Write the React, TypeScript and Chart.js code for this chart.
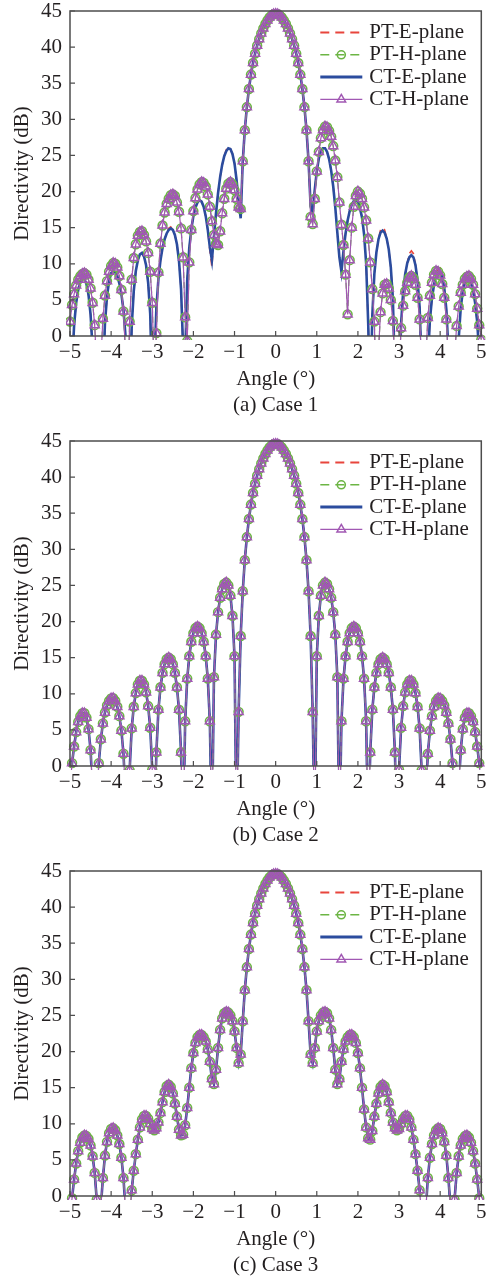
import { useEffect, useRef } from 'react';
import { Chart, registerables } from 'chart.js';

Chart.register(...registerables);

// ---------- data ----------
const angles = [
  -5, -4.95, -4.9, -4.85, -4.8, -4.75, -4.7, -4.65, -4.6, -4.55,
  -4.5, -4.45, -4.4, -4.35, -4.3, -4.25, -4.2, -4.15, -4.1, -4.05,
  -4, -3.95, -3.9, -3.85, -3.8, -3.75, -3.7, -3.65, -3.6, -3.55,
  -3.5, -3.45, -3.4, -3.35, -3.3, -3.25, -3.2, -3.15, -3.1, -3.05,
  -3, -2.95, -2.9, -2.85, -2.8, -2.75, -2.7, -2.65, -2.6, -2.55,
  -2.5, -2.45, -2.4, -2.35, -2.3, -2.25, -2.2, -2.15, -2.1, -2.05,
  -2, -1.95, -1.9, -1.85, -1.8, -1.75, -1.7, -1.65, -1.6, -1.55,
  -1.5, -1.45, -1.4, -1.35, -1.3, -1.25, -1.2, -1.15, -1.1, -1.05,
  -1, -0.95, -0.9, -0.85, -0.8, -0.75, -0.7, -0.65, -0.6, -0.55,
  -0.5, -0.45, -0.4, -0.35, -0.3, -0.25, -0.2, -0.15, -0.1, -0.05,
  0, 0.05, 0.1, 0.15, 0.2, 0.25, 0.3, 0.35, 0.4, 0.45,
  0.5, 0.55, 0.6, 0.65, 0.7, 0.75, 0.8, 0.85, 0.9, 0.95,
  1, 1.05, 1.1, 1.15, 1.2, 1.25, 1.3, 1.35, 1.4, 1.45,
  1.5, 1.55, 1.6, 1.65, 1.7, 1.75, 1.8, 1.85, 1.9, 1.95,
  2, 2.05, 2.1, 2.15, 2.2, 2.25, 2.3, 2.35, 2.4, 2.45,
  2.5, 2.55, 2.6, 2.65, 2.7, 2.75, 2.8, 2.85, 2.9, 2.95,
  3, 3.05, 3.1, 3.15, 3.2, 3.25, 3.3, 3.35, 3.4, 3.45,
  3.5, 3.55, 3.6, 3.65, 3.7, 3.75, 3.8, 3.85, 3.9, 3.95,
  4, 4.05, 4.1, 4.15, 4.2, 4.25, 4.3, 4.35, 4.4, 4.45,
  4.5, 4.55, 4.6, 4.65, 4.7, 4.75, 4.8, 4.85, 4.9, 4.95,
  5,
];

const seriesNames = ['PT-E-plane', 'PT-H-plane', 'CT-E-plane', 'CT-H-plane'];
const captions = ['(a) Case 1', '(b) Case 2', '(c) Case 3'];
const xTickValues = [-5, -4, -3, -2, -1, 0, 1, 2, 3, 4, 5];
const yTickValues = [0, 5, 10, 15, 20, 25, 30, 35, 40, 45];

// Case 1 (directivity, dB)
const case1PTE = [
  -10, -4.3, 1.5, 4.6, 6.4, 7.5, 8.0, 7.9, 7.2, 5.7,
  3.0, -1.9, -10, -6, -8, -10, -6.5, 1.8, 5.5, 7.6,
  8.7, 9.0, 8.8, 8.3, 7.3, 5.8, 3.6, 0.0, -6.9, -10,
  1.3, 6.2, 9.0, 10.5, 11.3, 11.5, 11.0, 9.8, 7.4, 3.1,
  -7.5, -4.5, 3.9, 7.9, 10.5, 12.2, 13.4, 14.2, 14.9, 15.1,
  14.7, 14.0, 12.7, 10.4, 6.5, -1.7, -3.2, 7.7, 12.2, 14.8,
  16.6, 17.8, 18.5, 18.8, 18.6, 17.9, 16.6, 14.7, 11.8, 9.6,
  13.8, 17.0, 19.8, 22.0, 23.7, 24.9, 25.8, 26.2, 25.9, 25.2,
  23.9, 21.6, 18.6, 16.3, 24.2, 28.5, 31.7, 34.2, 36.2, 37.8,
  39.1, 40.2, 41.1, 41.9, 42.6, 43.2, 43.7, 44.1, 44.4, 44.55,
  44.6, 44.55, 44.4, 44.1, 43.7, 43.2, 42.6, 41.9, 41.1, 40.2,
  39.1, 37.8, 36.2, 34.2, 31.7, 28.5, 24.2, 18.0, 17.0, 20.2,
  22.8, 24.6, 25.6, 26.0, 26.0, 25.5, 24.5, 22.9, 20.7, 17.8,
  14.3, 10.9, 8.9, 11.8, 14.2, 16.0, 17.3, 18.2, 18.7, 18.8,
  18.6, 17.7, 16.4, 14.1, 10.1, 1.8, -10, 2.8, 8.6, 11.6,
  13.4, 14.7, 15.0, 14.7, 13.5, 12.0, 9.5, 5.1, -5.4, -10,
  -8.8, 1.7, 6.1, 8.6, 10.1, 11.4, 11.8, 11.4, 9.8, 7.7,
  4.0, -4.3, -10, -10, -3.6, 2.2, 5.2, 7.1, 8.3, 9.2,
  9.4, 8.6, 6.6, 3.7, -1.9, -10, -8, -10, -10, -0.4,
  3.9, 6.2, 7.5, 8.0, 7.9, 7.3, 6.3, 4.6, 2.0, -2.5,
  -10,
];

const case1CTE = [
  -10, -4.3, 1.5, 4.6, 6.4, 7.5, 8.0, 7.9, 7.2, 5.7,
  3.0, -1.9, -10, -6, -8, -10, -6.5, 1.8, 5.5, 7.6,
  8.7, 9.0, 8.8, 8.3, 7.3, 5.8, 3.6, 0.0, -6.9, -10,
  1.3, 6.2, 9.0, 10.5, 11.3, 11.5, 11.0, 9.8, 7.4, 3.1,
  -7.5, -4.5, 3.9, 7.9, 10.5, 12.2, 13.4, 14.2, 14.7, 14.9,
  14.7, 14.0, 12.7, 10.4, 6.5, -1.7, -3.2, 7.7, 12.2, 14.8,
  16.6, 17.8, 18.5, 18.8, 18.6, 17.9, 16.6, 14.7, 12.3, 10.5,
  13.8, 17.0, 19.8, 22.0, 23.7, 24.9, 25.6, 26.0, 25.9, 25.2,
  23.9, 21.6, 18.6, 16.3, 24.2, 28.5, 31.7, 34.2, 36.2, 37.8,
  39.1, 40.2, 41.1, 41.9, 42.6, 43.2, 43.7, 44.1, 44.4, 44.55,
  44.6, 44.55, 44.4, 44.1, 43.7, 43.2, 42.6, 41.9, 41.1, 40.2,
  39.1, 37.8, 36.2, 34.2, 31.7, 28.5, 24.2, 18.0, 17.0, 20.2,
  22.8, 24.6, 25.6, 26.0, 26.0, 25.5, 24.5, 22.9, 20.7, 17.8,
  14.3, 10.9, 8.9, 11.8, 14.2, 16.0, 17.3, 18.2, 18.7, 18.8,
  18.6, 17.7, 16.4, 14.1, 10.1, 1.8, -10, 2.8, 8.6, 11.6,
  13.4, 14.3, 14.6, 14.3, 13.5, 12.0, 9.5, 5.1, -5.4, -10,
  -8.8, 1.7, 6.1, 8.6, 10.1, 10.9, 11.2, 10.9, 9.8, 7.7,
  4.0, -4.3, -10, -10, -3.6, 2.2, 5.2, 7.1, 8.3, 8.8,
  8.9, 8.2, 6.6, 3.7, -1.9, -10, -8, -10, -10, -0.4,
  3.9, 6.2, 7.5, 8.0, 7.9, 7.3, 6.3, 4.6, 2.0, -2.5,
  -10,
];

const case1H = [
  2.0, 4.3, 5.8, 7.0, 7.8, 8.3, 8.6, 8.7, 8.5, 7.8,
  6.6, 4.6, 1.5, -4.3, -10, -3.4, 2.4, 5.6, 7.6, 8.9,
  9.7, 10.1, 10.0, 9.5, 8.3, 6.4, 3.4, -2.4, -10, 2.0,
  7.8, 10.8, 12.7, 13.9, 14.4, 14.5, 14.0, 13.1, 11.5, 8.9,
  4.6, -6, 0.4, 8.8, 12.8, 15.3, 17.1, 18.3, 19.0, 19.5,
  19.6, 19.4, 18.5, 17.2, 14.9, 10.9, 2.6, -0.7, 10.2, 14.7,
  17.3, 19.1, 20.3, 21.0, 21.3, 21.2, 20.7, 19.6, 17.9, 15.9,
  14.0, 12.8, 12.6, 14.5, 17.0, 19.0, 20.4, 21.1, 21.3, 21.0,
  20.2, 19.0, 17.8, 17.6, 24.2, 28.5, 31.7, 34.2, 36.2, 37.8,
  39.1, 40.2, 41.1, 41.9, 42.6, 43.2, 43.7, 44.1, 44.4, 44.55,
  44.6, 44.55, 44.4, 44.1, 43.7, 43.2, 42.6, 41.9, 41.1, 40.2,
  39.1, 37.8, 36.2, 34.2, 31.7, 28.5, 24.2, 16.5, 15.5, 19.0,
  22.8, 25.5, 27.4, 28.5, 29.0, 28.9, 28.4, 27.6, 26.3, 24.3,
  22.0, 18.5, 15.4, 12.6, 8.5, 3.0, 10.5, 15.0, 17.9, 19.4,
  20.0, 19.7, 19.0, 17.8, 16.0, 13.5, 10.2, 6.5, 2.0, -10,
  -2.2, 3.3, 5.9, 7.1, 7.2, 6.6, 5.0, 2.1, -3.5, -10,
  -4.8, 1.1, 4.2, 6.2, 7.4, 8.1, 8.3, 8.0, 7.1, 5.3,
  2.3, -3.5, -10, -3.3, 2.5, 5.6, 7.4, 8.5, 9.0, 8.9,
  8.4, 7.2, 5.3, 2.3, -3.5, -10, -10, -2.9, 1.4, 4.1,
  6.0, 7.1, 7.9, 8.2, 8.3, 7.9, 7.1, 5.8, 3.8, 1.5,
  -0.5,
];

// Case 2
const case2Values = [
  -3, 0.4, 2.7, 4.7, 6.1, 6.9, 7.3, 7.3, 6.7, 5.1,
  2.2, -3.4, -10, -5.4, 0.4, 3.7, 5.9, 7.4, 8.4, 9.0,
  9.35, 9.4, 9.0, 8.2, 6.9, 4.9, 1.7, -4.1, -10, -0.6,
  5.2, 8.2, 10.1, 11.3, 11.8, 11.8, 11.3, 10.2, 8.3, 5.3,
  -0.5, -10, 1.9, 7.8, 10.9, 12.9, 14.1, 14.8, 15.0, 14.8,
  14.1, 12.9, 10.9, 7.8, 1.9, -10, 6.2, 12.1, 15.2, 17.2,
  18.4, 19.1, 19.3, 19.1, 18.4, 17.2, 15.2, 12.1, 6.2, -10,
  12.3, 18.2, 21.3, 23.3, 24.5, 25.2, 25.4, 25.0, 23.6, 20.8,
  15.2, -10, 7.5, 18.0, 24.2, 28.5, 31.7, 34.2, 36.2, 37.8,
  39.1, 40.2, 41.1, 41.9, 42.6, 43.2, 43.7, 44.1, 44.4, 44.55,
  44.6, 44.55, 44.4, 44.1, 43.7, 43.2, 42.6, 41.9, 41.1, 40.2,
  39.1, 37.8, 36.2, 34.2, 31.7, 28.5, 24.2, 18.0, 7.5, -10,
  15.2, 20.8, 23.6, 25.0, 25.4, 25.2, 24.5, 23.3, 21.3, 18.2,
  12.3, -10, 6.2, 12.1, 15.2, 17.2, 18.4, 19.1, 19.3, 19.1,
  18.4, 17.2, 15.2, 12.1, 6.2, -10, 1.9, 7.8, 10.9, 12.9,
  14.1, 14.8, 15.0, 14.8, 14.1, 12.9, 10.9, 7.8, 1.9, -10,
  -0.5, 5.3, 8.3, 10.2, 11.3, 11.8, 11.8, 11.3, 10.1, 8.2,
  5.2, -0.6, -10, -4.1, 1.7, 4.9, 6.9, 8.2, 9.0, 9.4,
  9.35, 9.0, 8.4, 7.4, 5.9, 3.7, 0.4, -5.4, -10, -3.4,
  2.2, 5.1, 6.7, 7.3, 7.3, 6.9, 6.1, 4.7, 2.7, 0.4,
  -3,
];

// Case 3
const case3Values = [
  -3, -0.3, 2.3, 4.5, 6.2, 7.4, 8.1, 8.4, 8.3, 7.9,
  7.0, 5.5, 3.2, -0.5, -10, -1.5, 2.5, 5.6, 7.5, 8.7,
  9.3, 9.4, 9.1, 8.4, 7.2, 5.3, 2.5, -2, -10, -3,
  0.8, 3.5, 5.8, 7.8, 9.5, 10.6, 11.1, 11.1, 10.7, 10.0,
  9.3, 9.1, 9.4, 10.2, 11.5, 13.0, 14.4, 15.2, 15.4, 15.1,
  14.2, 12.8, 11.0, 9.2, 8.4, 8.5, 9.8, 12.2, 15.0, 17.7,
  19.8, 21.2, 22.0, 22.3, 22.3, 22.0, 21.4, 20.3, 18.6, 16.2,
  15.5, 17.5, 20.5, 23.0, 24.6, 25.3, 25.5, 25.4, 25.0, 24.2,
  22.8, 20.5, 18.4, 19.6, 24.2, 28.5, 31.7, 34.2, 36.2, 37.8,
  39.1, 40.2, 41.1, 41.9, 42.6, 43.2, 43.7, 44.1, 44.4, 44.55,
  44.6, 44.55, 44.4, 44.1, 43.7, 43.2, 42.6, 41.9, 41.1, 40.2,
  39.1, 37.8, 36.2, 34.2, 31.7, 28.5, 24.2, 19.6, 18.4, 20.5,
  22.8, 24.2, 25.0, 25.4, 25.5, 25.3, 24.6, 23.0, 20.5, 17.5,
  15.5, 16.2, 18.6, 20.3, 21.4, 22.0, 22.3, 22.3, 22.0, 21.2,
  19.8, 17.7, 15.0, 12.0, 9.5, 8.0, 7.8, 9.0, 11.0, 12.8,
  14.2, 15.1, 15.4, 15.2, 14.4, 13.0, 11.5, 10.2, 9.4, 9.1,
  9.3, 10.0, 10.7, 11.1, 11.1, 10.6, 9.5, 7.8, 5.8, 3.5,
  0.8, -3, -10, -2, 2.5, 5.3, 7.2, 8.4, 9.1, 9.4,
  9.3, 8.7, 7.5, 5.6, 2.5, -1.5, -10, -0.5, 3.2, 5.5,
  7.0, 7.9, 8.3, 8.4, 8.1, 7.4, 6.2, 4.5, 2.3, -0.3,
  -3,
];

// ---------- style ----------
const FONT = "'Liberation Serif', 'Times New Roman', serif";
const TEXT = '#231f20';
const FRAME = '#4d4d4d';
const RED = '#e8453c';
const GREEN = '#6cb544';
const BLUE = '#2b4c9e';
const PURPLE = '#a158b3';

Chart.defaults.font.family = FONT;
Chart.defaults.font.size = 21;
Chart.defaults.color = TEXT;

const PLOT_TOP = 11;
const PLOT_BOTTOM = 336;

const framePlugin = {
  id: 'frameDeco',
  afterDatasetsDraw(chart: any, _args: any, opts: any) {
    const { ctx, chartArea, scales } = chart;
    const { left, right, top, bottom } = chartArea;
    ctx.save();
    // box
    ctx.strokeStyle = FRAME;
    ctx.lineWidth = 1.5;
    ctx.setLineDash([]);
    ctx.strokeRect(left, top, right - left, bottom - top);
    // inward ticks
    ctx.lineWidth = 1.2;
    ctx.beginPath();
    scales.x.ticks.forEach((t: any) => {
      const px = scales.x.getPixelForValue(t.value);
      ctx.moveTo(px, bottom);
      ctx.lineTo(px, bottom - 5);
    });
    scales.y.ticks.forEach((t: any) => {
      const py = scales.y.getPixelForValue(t.value);
      ctx.moveTo(left, py);
      ctx.lineTo(left + 5, py);
    });
    ctx.stroke();

    // legend
    const ds = chart.data.datasets;
    ctx.font = `21px ${FONT}`;
    ctx.textBaseline = 'middle';
    ctx.textAlign = 'left';
    ds.forEach((d: any, i: number) => {
      const y = top + 21.5 + 22.3 * i;
      const x0 = right - 161;
      const x1 = right - 119;
      const cx = (x0 + x1) / 2;
      ctx.strokeStyle = d.borderColor;
      ctx.lineWidth = d.legendWidth;
      ctx.setLineDash(d.borderDash && d.borderDash.length ? [9, 6] : []);
      ctx.beginPath();
      ctx.moveTo(x0, y);
      ctx.lineTo(x1, y);
      ctx.stroke();
      ctx.setLineDash([]);
      if (d.pointRadius > 0) {
        const r = d.pointStyle === 'triangle' ? 5 : 4;
        ctx.lineWidth = d.pointBorderWidth;
        ctx.strokeStyle = d.pointBorderColor;
        ctx.beginPath();
        if (d.pointStyle === 'triangle') {
          ctx.moveTo(cx, y - r);
          ctx.lineTo(cx + 0.866 * r, y + 0.5 * r);
          ctx.lineTo(cx - 0.866 * r, y + 0.5 * r);
          ctx.closePath();
        } else {
          ctx.arc(cx, y, r, 0, Math.PI * 2);
        }
        ctx.stroke();
      }
      ctx.fillStyle = TEXT;
      ctx.fillText(d.label, right - 112, y);
    });

    // caption
    ctx.textAlign = 'center';
    ctx.fillText(opts.caption, (left + right) / 2, bottom + 69.5);
    ctx.restore();
  },
};

const fmt = (v: any) => {
  const n = Number(v);
  return n < 0 ? '\u2212' + Math.abs(n) : String(n);
};

function Panel({ height, series, caption }: { height: number; series: number[][]; caption: string }) {
  const ref = useRef<HTMLCanvasElement>(null);
  useEffect(() => {
    const canvas = ref.current;
    if (!canvas) return;
    const xy = (vals: number[]) => angles.map((a, i) => ({ x: a, y: vals[i] }));
    const chart = new Chart(canvas, {
      type: 'line',
      data: {
        datasets: [
          {
            label: seriesNames[0],
            data: xy(series[0]),
            borderColor: RED,
            borderWidth: 1.6,
            legendWidth: 1.8,
            borderDash: [7, 5],
            pointRadius: 0,
            order: 4,
            clip: 0,
          } as any,
          {
            label: seriesNames[1],
            data: xy(series[1]),
            borderColor: GREEN,
            borderWidth: 1.2,
            legendWidth: 1.4,
            borderDash: [6, 4],
            pointStyle: 'circle',
            pointRadius: 4.4,
            pointBorderWidth: 1.6,
            pointBorderColor: GREEN,
            pointBackgroundColor: 'rgba(255,255,255,0)',
            order: 2,
            clip: 4,
          } as any,
          {
            label: seriesNames[2],
            data: xy(series[2]),
            borderColor: BLUE,
            borderWidth: 2.6,
            legendWidth: 3,
            borderDash: [],
            pointRadius: 0,
            order: 3,
            clip: 0,
          } as any,
          {
            label: seriesNames[3],
            data: xy(series[3]),
            borderColor: PURPLE,
            borderWidth: 1.2,
            legendWidth: 1.4,
            borderDash: [],
            pointStyle: 'triangle',
            pointRadius: 5.2,
            pointBorderWidth: 1.5,
            pointBorderColor: PURPLE,
            pointBackgroundColor: 'rgba(255,255,255,0)',
            order: 1,
            clip: 4,
          } as any,
        ],
      },
      options: {
        responsive: false,
        animation: false,
        devicePixelRatio: 1,
        events: [],
        layout: { padding: { top: PLOT_TOP, right: 3, left: 0, bottom: 0 } },
        elements: { line: { tension: 0 } },
        plugins: {
          legend: { display: false },
          tooltip: { enabled: false },
          frameDeco: { caption },
        } as any,
        scales: {
          x: {
            type: 'linear',
            min: xTickValues[0],
            max: xTickValues[xTickValues.length - 1],
            afterBuildTicks: (s: any) => {
              s.ticks = xTickValues.map((v) => ({ value: v }));
            },
            ticks: { padding: 4, autoSkip: false, maxRotation: 0, color: TEXT, font: { size: 21 }, callback: fmt },
            grid: { display: false, drawTicks: false, tickLength: 0 },
            border: { display: false },
            title: {
              display: true,
              text: 'Angle (°)',
              color: TEXT,
              font: { size: 21 },
              padding: { top: 0, bottom: height - PLOT_BOTTOM - 43 - 12.6 },
            },
            afterFit: (s: any) => {
              s.height = height - PLOT_BOTTOM;
              s.paddingLeft = 0;
              s.paddingRight = 0;
            },
          },
          y: {
            type: 'linear',
            min: yTickValues[0],
            max: yTickValues[yTickValues.length - 1],
            afterBuildTicks: (s: any) => {
              s.ticks = yTickValues.map((v) => ({ value: v }));
            },
            ticks: { padding: 8, color: TEXT, font: { size: 21 }, callback: fmt },
            grid: { display: false, drawTicks: false, tickLength: 0 },
            border: { display: false },
            title: {
              display: true,
              text: 'Directivity (dB)',
              color: TEXT,
              font: { size: 21 },
              padding: { top: 10, bottom: 0 },
            },
            afterFit: (s: any) => {
              s.width = 70;
              s.paddingTop = 0;
              s.paddingBottom = 0;
            },
          },
        },
      } as any,
      plugins: [framePlugin],
    });
    return () => chart.destroy();
  }, [height, series, caption]);
  return <canvas ref={ref} width={488} height={height} style={{ display: 'block', width: 488, height }} />;
}

const panel1 = [case1PTE, case1H, case1CTE, case1H];
const panel2 = [case2Values, case2Values, case2Values, case2Values];
const panel3 = [case3Values, case3Values, case3Values, case3Values];

export default function App() {
  return (
    <div
      style={{
        position: 'absolute',
        left: 0,
        top: 0,
        width: 488,
        height: 1276,
        overflow: 'hidden',
        background: '#ffffff',
      }}
    >
      <Panel height={430} series={panel1} caption={captions[0]} />
      <Panel height={430} series={panel2} caption={captions[1]} />
      <Panel height={416} series={panel3} caption={captions[2]} />
    </div>
  );
}
